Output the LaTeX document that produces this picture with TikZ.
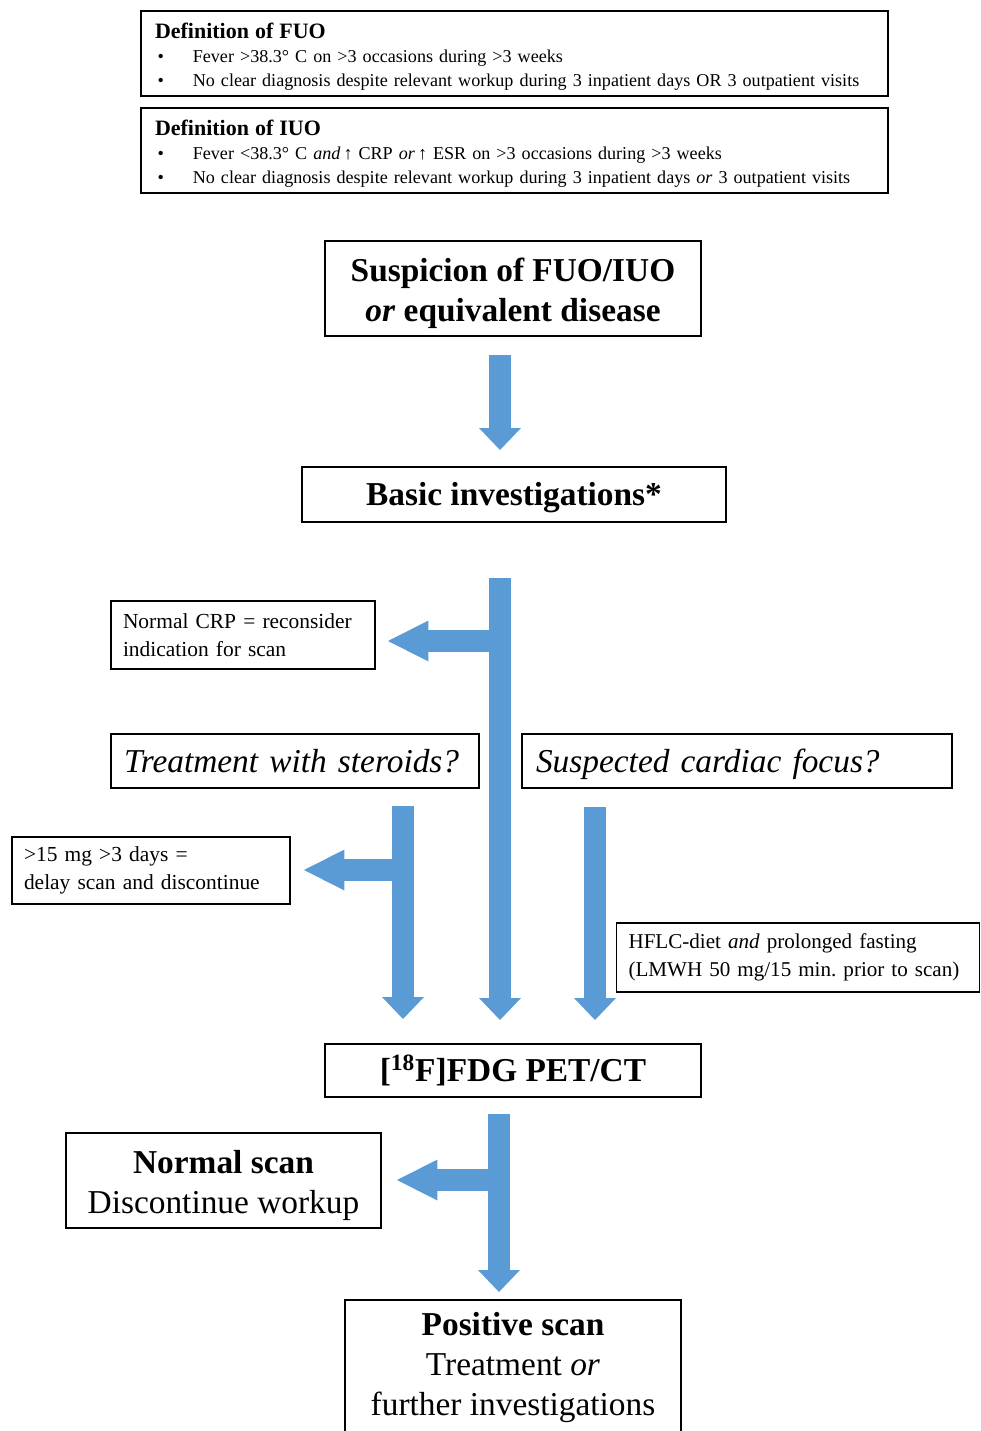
\documentclass[tikz,border=0pt]{standalone}
\usepackage{fontspec}
\setmainfont{Liberation Serif}
\usetikzlibrary{arrows.meta,positioning}
\definecolor{arrowblue}{RGB}{91,155,213}
\newcommand{\bul}{\makebox[21.5pt][l]{\hspace{1.5pt}\textbullet}}
\newcommand{\fsbig}{\fontsize{19}{22.7}\selectfont}
\newcommand{\fssmall}{\fontsize{12.2}{16}\selectfont}
\newcommand{\lift}{\rule{0pt}{18.5pt}}

\begin{document}
\begin{tikzpicture}[
x=0.02cm, y=-0.02cm,
box/.style={draw, line width=0.8pt, inner sep=0pt, align=center, font=\fsbig},
one line/.style={text height=13pt, text depth=0pt},
def box/.style={box, minimum width=14.94cm, minimum height=1.70cm, inner xsep=0.28cm, text width=14.38cm, align=left, font=\fontsize{10.3}{13.5}\selectfont},
note box/.style={box, inner xsep=0.24cm, align=left, font=\fssmall},
down arrow/.style={line width=0.43cm, arrowblue, -{Triangle[width=0.84cm, length=0.44cm, line width=0pt]}},
side arrow/.style={line width=0.43cm, arrowblue, -{Triangle[width=0.82cm, length=0.81cm, line width=0pt]}}
	]
	\useasboundingbox (0,0) rectangle (981,1431);
	\clip (0,0) rectangle (981,1431);
	% Nodes
	\node[def box] (fuo) at (514.5,53.5) {{\fontsize{12.5}{13.5}\selectfont\bfseries\rule{0pt}{12.5pt}Definition of FUO}\\
		\bul Fever >38.3° C on >3 occasions during >3 weeks\\
		\bul No clear diagnosis despite relevant workup during 3 inpatient days OR 3 outpatient visits};
	\node[def box] (iuo) at (514.5,150.5) {{\fontsize{12.5}{13.5}\selectfont\bfseries\rule{0pt}{12.5pt}Definition of IUO}\\
		\bul Fever <38.3° C \emph{and}\,↑ CRP \emph{or}\,↑ ESR on >3 occasions during >3 weeks\\
		\bul No clear diagnosis despite relevant workup during 3 inpatient days \emph{or} 3 outpatient visits};
	\node[box, minimum width=7.52cm, minimum height=1.90cm, font=\fsbig\bfseries] (susp) at (513,288.5) {\lift Suspicion of FUO/IUO\\ \emph{or} equivalent disease};
	\node[box, one line, minimum width=8.48cm, minimum height=1.10cm, font=\fsbig\bfseries] (basic) at (514,494.5) {Basic investigations*};
	\node[note box, minimum height=1.36cm, text width=4.80cm] (crp) at (243,635) {Normal CRP = reconsider\\ indication for scan};
	\node[box, one line, inner xsep=0.26cm, align=left, minimum height=1.08cm, text width=6.84cm, font=\fsbig\itshape] (ster) at (295,761) {Treatment with steroids?};
	\node[box, one line, inner xsep=0.28cm, align=left, minimum height=1.08cm, text width=8.04cm, font=\fsbig\itshape] (card) at (737,761) {Suspected cardiac focus?};
	\node[note box, minimum height=1.34cm, text width=5.08cm] (mg) at (151,870.5) {>15 mg >3 days =\\ delay scan and discontinue};
	\node[note box, inner xsep=0.24cm, minimum height=1.38cm, text width=6.78cm, font=\fontsize{12}{16}\selectfont] (hflc) at (798,957.5) {\mbox{HFLC-diet \emph{and} prolonged fasting}\\ \mbox{(LMWH 50 mg/15 min.\ prior to scan)}};
	\node[box, minimum width=7.52cm, minimum height=1.06cm, font=\fsbig\bfseries] (pet) at (513,1070.5) {[\textsuperscript{18}F]FDG PET/CT};
	\node[box, minimum width=6.30cm, minimum height=1.90cm] (norm) at (223.5,1180.5) {\lift\textbf{Normal scan}\\ Discontinue workup};
	\node[box, minimum width=6.72cm, minimum height=2.70cm] (pos) at (513,1367.5) {\textbf{Positive scan}\\ Treatment \emph{or}\\ further investigations};
	% Arrow ends
	\coordinate (a1s) at (500,355);
	\coordinate (a1e) at (500,450);
	\coordinate (a2s) at (500,578);
	\coordinate (a2e) at (500,1020);
	\coordinate (a2b) at (500,641);
	\coordinate (a2t) at (388,641);
	\coordinate (a3s) at (403,806);
	\coordinate (a3e) at (403,1019);
	\coordinate (a3b) at (403,870);
	\coordinate (a3t) at (304,870);
	\coordinate (a4s) at (595,807);
	\coordinate (a4e) at (595,1020);
	\coordinate (a5s) at (499,1114);
	\coordinate (a5e) at (499,1292);
	\coordinate (a5b) at (499,1180);
	\coordinate (a5t) at (397,1180);
	% Edges
	\path
	(a1s) edge[down arrow] (a1e)
	(a2s) edge[down arrow] (a2e)
	(a2b) edge[side arrow] (a2t)
	(a3s) edge[down arrow] (a3e)
	(a3b) edge[side arrow] (a3t)
	(a4s) edge[down arrow] (a4e)
	(a5s) edge[down arrow] (a5e)
	(a5b) edge[side arrow] (a5t);
\end{tikzpicture}
\end{document}
